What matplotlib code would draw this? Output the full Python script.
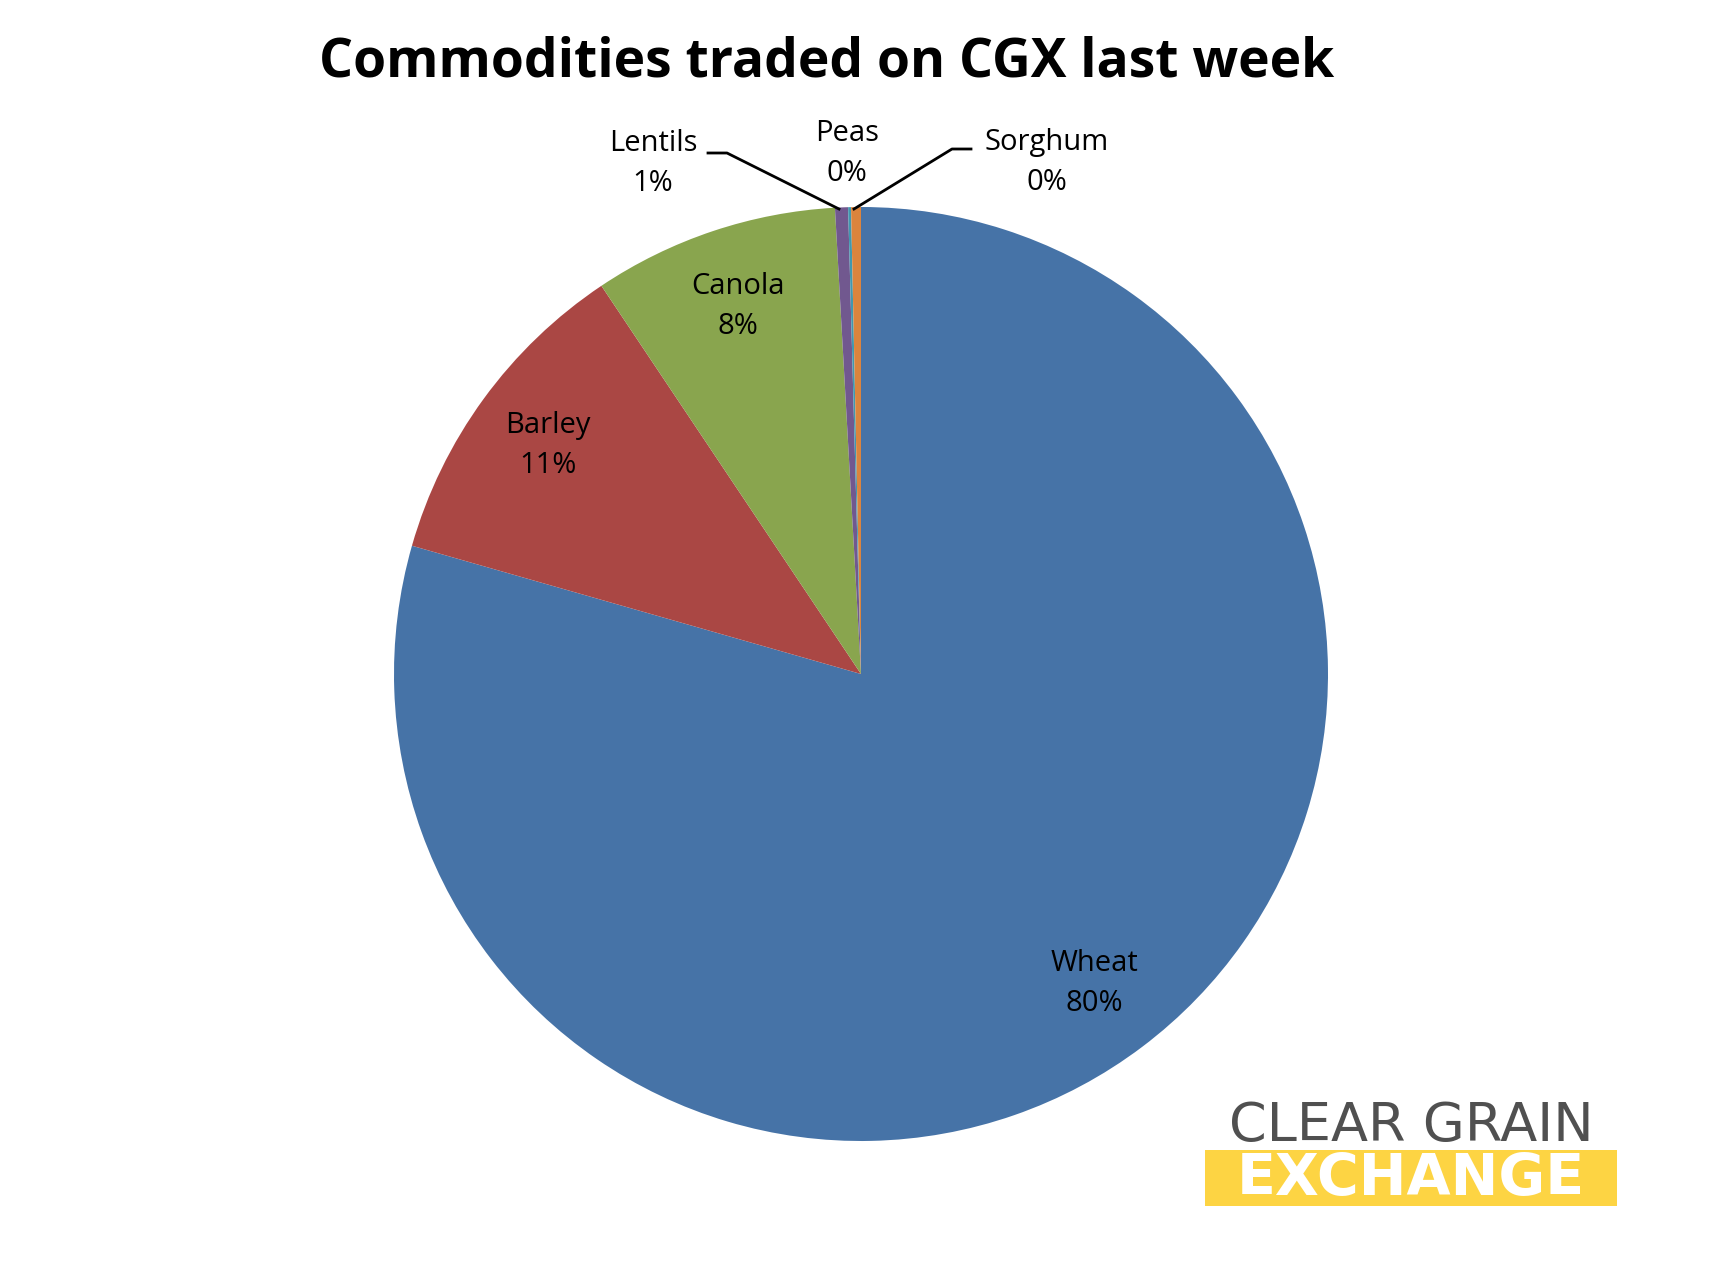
import matplotlib
matplotlib.use("Agg")
import matplotlib.pyplot as plt
import numpy as np
from matplotlib.patches import Rectangle

categories = ["Wheat", "Barley", "Canola", "Lentils", "Peas", "Sorghum"]
values = [79.5, 11.2, 8.5, 0.45, 0.1, 0.34]
pct_labels = ["80%", "11%", "8%", "1%", "0%", "0%"]
colors = ["#4673A7", "#AA4744", "#89A54E", "#71588F", "#4198AF", "#DB843D"]

W, H = 1716, 1288
fig = plt.figure(figsize=(W/100, H/100), dpi=100)
ax = fig.add_axes([0, 0, 1, 1])

cx, cy, R = 861, H - 674, 467
wedges, _ = ax.pie(values, colors=colors, startangle=90, counterclock=False,
                   center=(cx, cy), radius=R, frame=True,
                   wedgeprops=dict(linewidth=0))
ax.set_xlim(0, W); ax.set_ylim(0, H); ax.axis("off"); ax.set_aspect("auto")

font = "Open Sans"
fs = 21
ls = 1.5
for i in range(3):
    w = wedges[i]
    mid = np.deg2rad((w.theta1 + w.theta2) / 2)
    x = cx + 0.83 * R * np.cos(mid); y = cy + 0.83 * R * np.sin(mid)
    ax.text(x, y, f"{categories[i]}\n{pct_labels[i]}", ha="center", va="center",
            fontsize=fs, family=font, linespacing=ls)

small_pos = {3: (653, 163), 4: (847, 153), 5: (1047, 162)}
for i, (x, y) in small_pos.items():
    ax.text(x, H - y, f"{categories[i]}\n{pct_labels[i]}", ha="center", va="center",
            fontsize=fs, family=font, linespacing=ls)
ax.plot([708, 727, 839], [H-153, H-153, H-209], color="black", lw=2)
ax.plot([971, 952, 854], [H-149, H-149, H-209], color="black", lw=2)

ax.text(827, H - 62, "Commodities traded on CGX last week", ha="center", va="center",
        fontsize=38.5, fontweight="bold", family=font)

# logo
ax.add_patch(Rectangle((1205, H - 1206), 412, 56, color="#FDD443", lw=0))
ax.text(1411, H - 1126, "CLEAR GRAIN", ha="center", va="center", fontsize=39,
        family="DejaVu Sans", color="#505050")
ax.text(1411, H - 1179, "EXCHANGE", ha="center", va="center", fontsize=41,
        family="DejaVu Sans", fontweight="bold", color="white")

fig.savefig("out.png", dpi=100)
